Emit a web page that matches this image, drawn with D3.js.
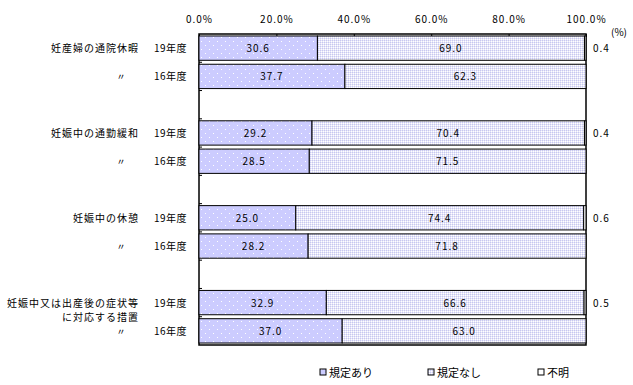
<!DOCTYPE html>
<html><head><meta charset="utf-8">
<script src="https://cdn.jsdelivr.net/npm/d3@7"></script>
<style>
body{margin:0;background:#fff;}
text{font-family:"MS PGothic","Noto Sans CJK JP",sans-serif;fill:#000;}
</style></head>
<body><svg id="c" width="633" height="385"></svg>
<script>
const groups = [["妊産婦の通院休暇"],["妊娠中の通勤緩和"],["妊娠中の休憩"],["妊娠中又は出産後の症状等","に対応する措置"]];
const years = ["19年度","16年度"];
const yesVals = [30.6, 37.7, 29.2, 28.5, 25.0, 28.2, 32.9, 37.0];
const noVals  = [69.0, 62.3, 70.4, 71.5, 74.4, 71.8, 66.6, 63.0];
const unkVals = [0.4, 0, 0.4, 0, 0.6, 0, 0.5, 0];
const xTicks = [0,20,40,60,80,100];
const seriesNames = ["規定あり","規定なし","不明"];

const svg = d3.select("#c");
const defs = svg.append("defs");
// pattern 1: lavender with white dots
const p1 = defs.append("pattern").attr("id","p1").attr("patternUnits","userSpaceOnUse").attr("width",8).attr("height",8);
p1.append("rect").attr("width",8).attr("height",8).attr("fill","#ccccff");
p1.append("rect").attr("x",1).attr("y",1).attr("width",1).attr("height",1).attr("fill","#fff");
p1.append("rect").attr("x",5).attr("y",5).attr("width",1).attr("height",1).attr("fill","#fff");
// pattern 2: dither
const p2 = defs.append("pattern").attr("id","p2").attr("patternUnits","userSpaceOnUse").attr("width",2).attr("height",2);
p2.append("rect").attr("width",2).attr("height",2).attr("fill","#e6e6f8");
p2.append("rect").attr("x",0).attr("y",0).attr("width",1).attr("height",1).attr("fill","#c8c8f0");
p2.append("rect").attr("x",1).attr("y",1).attr("width",1).attr("height",1).attr("fill","#fff");
const fills = ["url(#p1)","url(#p2)","#fff"];

// slots
const slots = [];
const rows = [];
groups.forEach((g,gi)=>{
  years.forEach((yr,yi)=>{ const id="r"+gi+"_"+yi; slots.push(id); rows.push({id,gi,yi,yr}); });
  if(gi<groups.length-1) slots.push("gap"+gi);
});
rows.forEach((r,i)=>{ r.yes=yesVals[i]; r.no=noVals[i]; r.unk=unkVals[i]; });

const L=199, R=586, T=34, B=345;
const x = d3.scaleLinear().domain([0,100]).range([L,R]);
const y = d3.scaleBand().domain(slots).range([T,B]).paddingInner(0.14).paddingOuter(0.07);
const step = y.step();

// frame
svg.append("rect").attr("x",L).attr("y",T).attr("width",R-L).attr("height",B-T)
  .attr("fill","none").attr("stroke","#000").attr("stroke-width",1.5);

// top axis
const xAxis = d3.axisTop(x).tickValues(xTicks).tickSize(-3).tickPadding(11)
  .tickFormat(d=>d3.format(".1f")(d)+"%");
const gx = svg.append("g").attr("transform",`translate(0,${T})`).call(xAxis);
gx.select(".domain").remove();
gx.selectAll("line").attr("stroke","#000");
gx.selectAll("text").attr("font-size",10).attr("letter-spacing","1px");

// left ticks at slot boundaries
const bounds = slots.slice(1).map(s=>y(s)-step*y.paddingInner()/2);
svg.append("g").selectAll("line").data(bounds).join("line")
  .attr("x1",L).attr("x2",L+3).attr("y1",d=>d).attr("y2",d=>d).attr("stroke","#000");

// bars
const bars = svg.append("g");
rows.forEach(r=>{
  const segs = [[0,r.yes],[r.yes,r.yes+r.no],[r.yes+r.no,r.yes+r.no+r.unk]];
  segs.forEach((s,si)=>{
    if(s[1]-s[0]<=0) return;
    bars.append("rect").attr("x",x(s[0])).attr("y",y(r.id)).attr("width",x(s[1])-x(s[0]))
      .attr("height",y.bandwidth()).attr("fill",fills[si]).attr("stroke","#000").attr("stroke-width",1);
  });
  [[0,r.yes],[r.yes,r.yes+r.no]].forEach(s=>{
    bars.append("text").attr("x",(x(s[0])+x(s[1]))/2).attr("y",y(r.id)+y.bandwidth()/2+4)
      .attr("text-anchor","middle").attr("font-size",10).attr("letter-spacing","1px")
      .text(d3.format(".1f")(s[1]-s[0]));
  });
  if(r.unk>0){
    svg.append("text").attr("x",R+7).attr("y",y(r.id)+y.bandwidth()/2+4)
      .attr("font-size",10).attr("letter-spacing","1px").text(d3.format(".1f")(r.unk));
  }
  // year label
  svg.append("text").attr("x",154).attr("y",y(r.id)+y.bandwidth()/2+4)
    .attr("font-size",10).attr("letter-spacing","0.5px").text(r.yr);
  if(r.yi===0){
    const lines = groups[r.gi];
    lines.forEach((ln,li)=>{
      svg.append("text").attr("x",139).attr("y",y(r.id)+y.bandwidth()/2+4+li*14)
        .attr("text-anchor","end").attr("font-size",10).attr("letter-spacing","1px").text(ln);
    });
  } else {
    svg.append("text").attr("x",121).attr("y",y(r.id)+y.bandwidth()/2+4)
      .attr("text-anchor","middle").attr("font-size",9).text("〃");
  }
});

svg.append("text").attr("x",611).attr("y",36).attr("font-size",10).text("(%)");

// legend
const legX = [320, 428, 538];
const lg = svg.append("g");
seriesNames.forEach((n,i)=>{
  lg.append("rect").attr("x",legX[i]).attr("y",369).attr("width",6).attr("height",6)
    .attr("fill",fills[i]).attr("stroke","#000").attr("stroke-width",1);
  lg.append("text").attr("x",legX[i]+9).attr("y",377).attr("font-size",11).text(n);
});
</script></body></html>
